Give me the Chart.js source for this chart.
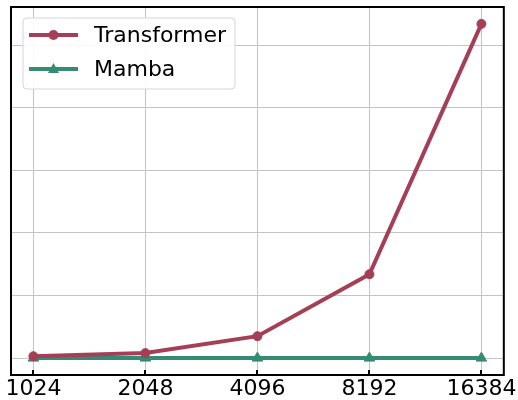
<!DOCTYPE html>
<html>
<head>
<meta charset="utf-8">
<script src="https://cdn.jsdelivr.net/npm/chart.js@4"></script>
<style>
  html, body { margin: 0; padding: 0; background: #fff; }
  #wrap { width: 518px; height: 400px; }
</style>
</head>
<body>
<div id="wrap"><canvas id="chart"></canvas></div>
<script>
var seqLengths = ['1024', '2048', '4096', '8192', '16384'];
var transformerValues = [0.03, 0.08, 0.35, 1.34, 5.34];
var mambaValues = [0.0, 0.0, 0.0, 0.0, 0.0];

var fontFamily = '"DejaVu Sans", sans-serif';

function toPoints(values) {
    return values.map(function(v, i) { return { x: i, y: v }; });
}

// frame + inward x ticks
var framePlugin = {
    id: 'frame',
    afterDatasetsDraw: function(chart) {
        var ctx = chart.ctx;
        var a = chart.chartArea;
        var xs = chart.scales.x;
        ctx.save();
        ctx.strokeStyle = '#000';
        ctx.lineWidth = 2;
        ctx.strokeRect(a.left, a.top, a.right - a.left, a.bottom - a.top);
        seqLengths.forEach(function(l, i) {
            var px = Math.round(xs.getPixelForValue(i));
            ctx.beginPath();
            ctx.moveTo(px, a.bottom);
            ctx.lineTo(px, a.bottom - 5);
            ctx.stroke();
        });
        ctx.restore();
    }
};

// matplotlib style legend box
var legendPlugin = {
    id: 'mplLegend',
    afterDraw: function(chart) {
        var ctx = chart.ctx;
        var x = 23, y = 18, w = 212, h = 71;
        ctx.save();
        ctx.beginPath();
        ctx.roundRect(x, y, w, h, 4);
        ctx.fillStyle = 'rgba(255,255,255,0.9)';
        ctx.fill();
        ctx.strokeStyle = '#d6d6d6';
        ctx.lineWidth = 1;
        ctx.stroke();
        ctx.font = '22px ' + fontFamily;
        ctx.textBaseline = 'middle';
        chart.data.datasets.forEach(function(ds, i) {
            var cy = y + 17 + i * 34;
            ctx.strokeStyle = ds.borderColor;
            ctx.lineWidth = 4;
            ctx.beginPath();
            ctx.moveTo(29, cy);
            ctx.lineTo(78, cy);
            ctx.stroke();
            ctx.fillStyle = ds.borderColor;
            ctx.beginPath();
            if (ds.pointStyle === 'triangle') {
                ctx.moveTo(53.5, cy - 6);
                ctx.lineTo(59, cy + 4);
                ctx.lineTo(48, cy + 4);
                ctx.closePath();
            } else {
                ctx.arc(53.5, cy, 5, 0, Math.PI * 2);
            }
            ctx.fill();
            ctx.fillStyle = '#000';
            ctx.fillText(ds.label, 94, cy + 1);
        });
        ctx.restore();
    }
};

var chart = new Chart(document.getElementById('chart'), {
    type: 'line',
    data: {
        datasets: [
            {
                label: 'Transformer',
                data: toPoints(transformerValues),
                borderColor: '#a53f57',
                backgroundColor: '#a53f57',
                borderWidth: 4,
                pointRadius: 4.5,
                pointBorderWidth: 1,
                pointHoverRadius: 4.5,
                pointStyle: 'circle',
                tension: 0
            },
            {
                label: 'Mamba',
                data: toPoints(mambaValues),
                borderColor: '#368c72',
                backgroundColor: '#368c72',
                borderWidth: 4,
                pointRadius: 6,
                pointBorderWidth: 1,
                pointHoverRadius: 6,
                pointStyle: 'triangle',
                tension: 0
            }
        ]
    },
    options: {
        responsive: true,
        maintainAspectRatio: false,
        animation: false,
        events: [],
        layout: { padding: { left: 11, right: 13, top: 7, bottom: 0 } },
        plugins: {
            legend: { display: false },
            tooltip: { enabled: false }
        },
        scales: {
            x: {
                type: 'linear',
                min: -0.2,
                max: 4.2,
                afterBuildTicks: function(scale) {
                    scale.ticks = seqLengths.map(function(l, i) { return { value: i }; });
                },
                afterFit: function(scale) { scale.height = 25; },
                ticks: {
                    autoSkip: false,
                    maxRotation: 0,
                    padding: 1,
                    color: '#000',
                    font: { family: fontFamily, size: 22 },
                    callback: function(v) { return seqLengths[v]; }
                },
                grid: { color: '#c4c4c4', lineWidth: 1, drawTicks: false },
                border: { display: false }
            },
            y: {
                min: -0.27,
                max: 5.61,
                afterBuildTicks: function(scale) {
                    scale.ticks = [0, 1, 2, 3, 4, 5].map(function(v) { return { value: v }; });
                },
                afterFit: function(scale) { scale.width = 0; },
                ticks: { display: false },
                grid: { color: '#c4c4c4', lineWidth: 1, drawTicks: false },
                border: { display: false }
            }
        }
    },
    plugins: [framePlugin, legendPlugin]
});
</script>
</body>
</html>
